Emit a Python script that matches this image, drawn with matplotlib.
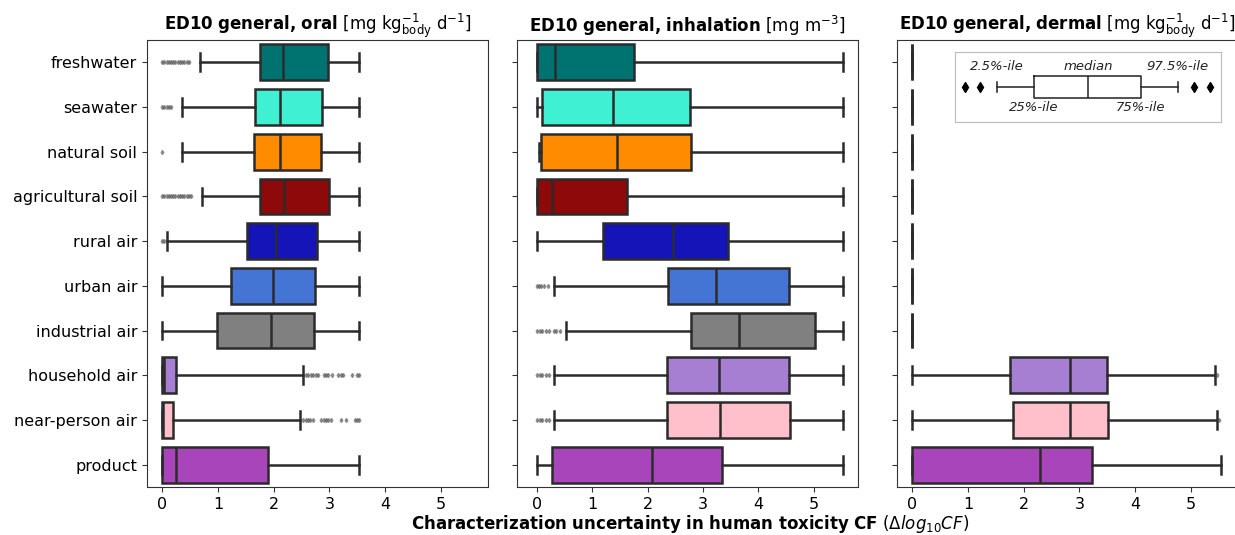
import matplotlib
matplotlib.use("Agg")
import matplotlib.pyplot as plt

plt.rcParams.update({
    "font.family": "DejaVu Sans",
    "mathtext.fontset": "dejavusans",
})

categories = ["freshwater", "seawater", "natural soil", "agricultural soil", "rural air",
              "urban air", "industrial air", "household air", "near-person air", "product"]
colors = ["#007270", "#40F0D2", "#FF8C00", "#8E0A0A", "#1414B8",
          "#4474D4", "#808080", "#A67FD3", "#FFC0CB", "#A845BA"]

# each entry: (2.5%, 25%, median, 75%, 97.5%)
oral = [
    (0.68, 1.76, 2.17, 2.98, 3.53),
    (0.36, 1.67, 2.11, 2.86, 3.53),
    (0.36, 1.65, 2.11, 2.85, 3.53),
    (0.72, 1.76, 2.18, 2.99, 3.53),
    (0.09, 1.52, 2.05, 2.78, 3.53),
    (0.00, 1.24, 1.98, 2.74, 3.53),
    (0.00, 0.99, 1.95, 2.72, 3.53),
    (0.00, 0.00, 0.03, 0.25, 2.52),
    (0.00, 0.00, 0.02, 0.20, 2.47),
    (0.00, 0.00, 0.25, 1.89, 3.53),
]
oral_fliers = [
    [0.0, 0.04, 0.08, 0.12, 0.16, 0.2, 0.24, 0.28, 0.32, 0.36, 0.4, 0.44, 0.48],
    [0.0, 0.04, 0.08, 0.12, 0.16],
    [0.0],
    [0.0, 0.04, 0.08, 0.12, 0.16, 0.2, 0.24, 0.28, 0.32, 0.36, 0.4, 0.44, 0.48, 0.52],
    [0.0, 0.03],
    [],
    [],
    [2.58, 2.62, 2.66, 2.7, 2.75, 2.8, 2.9, 2.94, 2.98, 3.05, 3.15, 3.2, 3.25, 3.4, 3.5, 3.53],
    [2.53, 2.57, 2.61, 2.65, 2.7, 2.85, 2.9, 2.94, 2.98, 3.02, 3.2, 3.3, 3.45, 3.5, 3.53],
    [],
]

inhalation = [
    (0.00, 0.00, 0.33, 1.76, 5.53),
    (0.00, 0.09, 1.37, 2.76, 5.53),
    (0.03, 0.08, 1.45, 2.79, 5.53),
    (0.00, 0.00, 0.27, 1.63, 5.53),
    (0.01, 1.20, 2.45, 3.45, 5.53),
    (0.30, 2.37, 3.24, 4.56, 5.53),
    (0.52, 2.78, 3.65, 5.02, 5.53),
    (0.30, 2.35, 3.28, 4.55, 5.53),
    (0.30, 2.35, 3.30, 4.58, 5.53),
    (0.00, 0.28, 2.07, 3.35, 5.53),
]
inhalation_fliers = [
    [], [], [], [], [],
    [0.0, 0.04, 0.08, 0.12, 0.2],
    [0.0, 0.05, 0.1, 0.17, 0.22, 0.3, 0.35, 0.42],
    [0.0, 0.05, 0.1, 0.17, 0.22],
    [0.0, 0.05, 0.1, 0.17, 0.22],
    [],
]

dermal = [
    (0.0, 0.0, 0.0, 0.0, 0.0),
    (0.0, 0.0, 0.0, 0.0, 0.0),
    (0.0, 0.0, 0.0, 0.0, 0.0),
    (0.0, 0.0, 0.0, 0.0, 0.0),
    (0.0, 0.0, 0.0, 0.0, 0.0),
    (0.0, 0.0, 0.0, 0.0, 0.0),
    (0.0, 0.0, 0.0, 0.0, 0.0),
    (0.00, 1.75, 2.83, 3.50, 5.42),
    (0.00, 1.81, 2.83, 3.51, 5.46),
    (0.00, 0.00, 2.29, 3.22, 5.53),
]
dermal_fliers = [[], [], [], [], [], [], [], [5.46], [5.50], []]

titles = [
    r"$\mathbf{ED10\ general{,}\ oral}$ [mg kg$_{\mathrm{body}}^{-1}$ d$^{-1}$]",
    r"$\mathbf{ED10\ general{,}\ inhalation}$ [mg m$^{-3}$]",
    r"$\mathbf{ED10\ general{,}\ dermal}$ [mg kg$_{\mathrm{body}}^{-1}$ d$^{-1}$]",
]

# schematic legend box: 2.5%, 25%, median, 75%, 97.5%, plus example fliers
legend_stats = (1.07, 1.83, 2.95, 4.04, 4.81)
legend_fliers = [0.41, 0.72, 5.14, 5.47]

EDGE = "#2b2b2b"
W, H = 1235, 535


def make_stats(rows, fliers):
    stats = []
    for (lo, q1, med, q3, hi), fl in zip(rows, fliers):
        stats.append({"whislo": lo, "q1": q1, "med": med, "q3": q3, "whishi": hi, "fliers": fl})
    return stats


def draw_panel(ax, rows, fliers, title):
    stats = make_stats(rows, fliers)
    pos = list(range(len(stats)))
    bp = ax.bxp(
        stats, positions=pos, vert=False, widths=0.8, patch_artist=True,
        boxprops=dict(edgecolor=EDGE, linewidth=1.8),
        medianprops=dict(color=EDGE, linewidth=1.8),
        whiskerprops=dict(color=EDGE, linewidth=1.8),
        capprops=dict(color=EDGE, linewidth=1.8),
        flierprops=dict(marker="d", markersize=2.2, markerfacecolor="#555555",
                        markeredgecolor="#555555", alpha=0.55, linestyle="none"),
    )
    for patch, c in zip(bp["boxes"], colors):
        patch.set_facecolor(c)
    ax.set_ylim(9.5, -0.5)
    ax.set_xlim(-0.27, 5.84)
    ax.set_xticks([0, 1, 2, 3, 4, 5])
    ax.set_yticks(pos)
    ax.tick_params(labelsize=11.5, color="#333333")
    ax.set_title(title, fontsize=12, pad=6)
    for sp in ax.spines.values():
        sp.set_color("#333333")


fig = plt.figure(figsize=(W / 100, H / 100), dpi=100)
lefts = [147, 517, 897]
width_px = 341
top_px, bot_px = 40, 487
axes = []
for left in lefts:
    ax = fig.add_axes([left / W, 1 - bot_px / H, width_px / W, (bot_px - top_px) / H])
    axes.append(ax)

draw_panel(axes[0], oral, oral_fliers, titles[0])
draw_panel(axes[1], inhalation, inhalation_fliers, titles[1])
draw_panel(axes[2], dermal, dermal_fliers, titles[2])
axes[1].set_xlim(-0.36, 5.8)
axes[0].set_yticklabels(categories)
axes[1].set_yticklabels([])
axes[2].set_yticklabels([])

# schematic legend inset in dermal panel
lax = fig.add_axes([955 / W, 1 - 122 / H, 266 / W, 70 / H])
lax.bxp([{"whislo": legend_stats[0], "q1": legend_stats[1], "med": legend_stats[2],
          "q3": legend_stats[3], "whishi": legend_stats[4], "fliers": legend_fliers}],
        positions=[0], vert=False, widths=0.3,
        boxprops=dict(color="#222222", linewidth=1.1),
        medianprops=dict(color="#222222", linewidth=1.1),
        whiskerprops=dict(color="#222222", linewidth=1.1),
        capprops=dict(color="#222222", linewidth=1.1),
        flierprops=dict(marker="d", markersize=5.5, markerfacecolor="black",
                        markeredgecolor="black", linestyle="none"))
lax.set_xlim(0.2, 5.7)
lax.set_ylim(-0.5, 0.5)
lax.set_xticks([])
lax.set_yticks([])
for sp in lax.spines.values():
    sp.set_color("#bbbbbb")
lab_kw = dict(ha="center", fontsize=9.5, style="italic", color="#222222")
lax.text(legend_stats[0], -0.2, "2.5%-ile", va="bottom", **lab_kw)
lax.text(legend_stats[2], -0.2, "median", va="bottom", **lab_kw)
lax.text(legend_stats[4], -0.2, "97.5%-ile", va="bottom", **lab_kw)
lax.text(legend_stats[1], 0.2, "25%-ile", va="top", **lab_kw)
lax.text(legend_stats[3], 0.2, "75%-ile", va="top", **lab_kw)
lax.invert_yaxis()

fig.text(690 / W, 1 - 524 / H,
         r"$\mathbf{Characterization\ uncertainty\ in\ human\ toxicity\ CF}$ ($\Delta log_{10}CF$)",
         ha="center", va="center", fontsize=12)

fig.savefig("out.png", dpi=100, facecolor="white")
